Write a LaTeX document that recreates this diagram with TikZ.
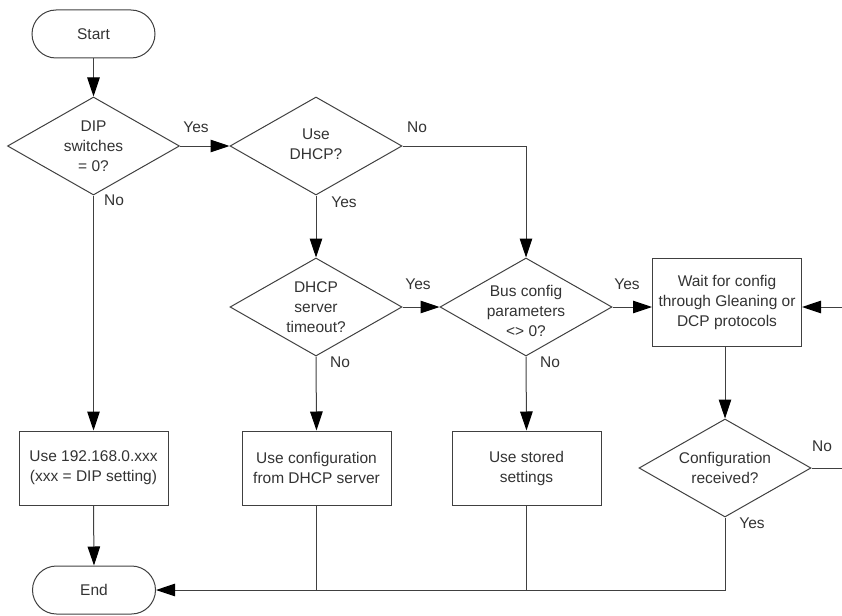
\documentclass[tikz,border=0pt]{standalone}
\usepackage{fontspec}
\setmainfont{Liberation Sans}
\usetikzlibrary{shapes.geometric,shapes.misc,arrows.meta}
\begin{document}
\begin{tikzpicture}[x=1pt,y=-1pt,
  every node/.style={font=\fontsize{15.5}{20}\selectfont, text=black!80},
  line/.style={draw=black!75, line width=1pt},
  arr/.style={line, -{Triangle[length=19pt,width=12.5pt,color=black]}},
  term/.style={line, rounded rectangle, minimum width=123pt, minimum height=48pt, inner sep=0pt},
  dia/.style={line, diamond, minimum width=172pt, minimum height=98pt, inner sep=0pt},
  box/.style={line, rectangle, minimum width=149pt, minimum height=74pt, inner sep=0pt, align=center},
  txt/.style={align=center, inner sep=0pt},
  lbl/.style={inner sep=0pt}
]
\useasboundingbox (0,0) rectangle (842,615);

% terminators
\node[term] (start) at (93.5,34) {Start};
\node[term] (end) at (94,590) {End};

% decisions
\node[dia] (dip) at (93.5,146) {};
\node[txt] (diptxt) at (dip.center) {DIP\\switches\\= 0?};
\node[dia] (dhcp) at (316,146) {};
\node[txt] (dhcptxt) at (316,144) {Use\\DHCP?};
\node[dia] (tmo) at (316,307) {};
\node[txt] (tmotxt) at (316,307) {DHCP\\server\\timeout?};
\node[dia] (bus) at (526,307) {};
\node[txt] (bustxt) at (526,311) {Bus config\\parameters\\<> 0?};
\node[dia] (conf) at (725,468) {};
\node[txt] (conftxt) at (725,468) {Configuration\\received?};

% process boxes
\node[box] (ip) at (93.5,468) {Use 192.168.0.xxx\\(xxx = DIP setting)};
\node[box] (cfg) at (316.5,468) {Use configuration\\from DHCP server};
\node[box] (stored) at (526.5,468) {Use stored\\settings};
\node[box, minimum height=88pt] (wait) at (727,302) {Wait for config\\through Gleaning or\\DCP protocols};

% free ends
\coordinate (rin) at (842,307);
\coordinate (rout) at (842,468);

% connectors
\draw[arr] (start.south) -- (dip.north);
\draw[arr] (dip.east) -- (dhcp.west);
\draw[arr] (dip.south) -- (ip.north);
\draw[arr] (dhcp.south) -- (tmo.north);
\draw[arr] (dhcp.east) -- (bus.north |- dhcp.east) -- (bus.north);
\draw[arr] (tmo.east) -- (bus.west);
\draw[arr] (tmo.south) -- (cfg.north);
\draw[arr] (bus.south) -- (stored.north);
\draw[arr] (bus.east) -- (wait.west |- bus.east);
\draw[arr] (rin) -- (wait.east |- rin);
\draw[arr] (wait.south -| conf.north) -- (conf.north);
\draw[line] (conf.east) -- (rout);
\draw[arr] (ip.south) -- (end.north);
\draw[arr] (conf.south) -- (conf.south |- end.east) -- (end.east);
\draw[line] (cfg.south) -- (cfg.south |- end.east);
\draw[line] (stored.south) -- (stored.south |- end.east);

% labels
\node[lbl] (l1) at (196,127) {Yes};
\node[lbl] (l2) at (114,200) {No};
\node[lbl] (l3) at (417,127) {No};
\node[lbl] (l4) at (344,202) {Yes};
\node[lbl] (l5) at (418,284) {Yes};
\node[lbl] (l6) at (340,362) {No};
\node[lbl] (l7) at (550,362) {No};
\node[lbl] (l8) at (627,284) {Yes};
\node[lbl] (l9) at (822,446) {No};
\node[lbl] (l10) at (752,523) {Yes};
\end{tikzpicture}
\end{document}
